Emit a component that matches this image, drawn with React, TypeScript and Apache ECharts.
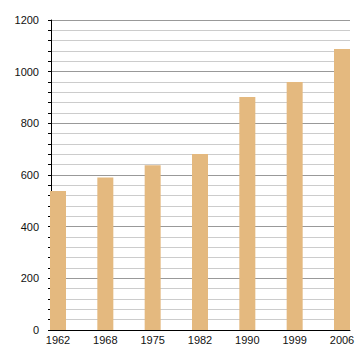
import React, { useEffect, useRef } from "react";
import * as echarts from "echarts";

const years = ["1962", "1968", "1975", "1982", "1990", "1999", "2006"];
const population = [538, 590, 638, 681, 902, 960, 1088];
const yTicks = [0, 200, 400, 600, 800, 1000, 1200];

export default function App() {
  const ref = useRef<HTMLDivElement>(null);
  useEffect(() => {
    if (!ref.current) return;
    const chart = echarts.init(ref.current, undefined, { renderer: "svg" });
    const font = "Liberation Sans, Arial, sans-serif";
    chart.setOption({
      animation: false,
      textStyle: { fontFamily: font },
      grid: [
        { left: 51, right: 10, top: 20, bottom: 30 },
        { left: 58, right: 18, top: 20, bottom: 30 },
      ],
      xAxis: [
        {
          type: "value",
          gridIndex: 0,
          min: 0,
          max: 1,
          axisLine: { show: true, lineStyle: { color: "#000", width: 1 } },
          axisTick: { show: false },
          axisLabel: { show: false },
          splitLine: { show: false },
        },
        {
          type: "category",
          gridIndex: 1,
          boundaryGap: false,
          data: years,
          axisLine: { show: false },
          axisTick: { show: false },
          axisLabel: { color: "#111", fontSize: 11, margin: 4, fontFamily: font },
          splitLine: { show: false },
        },
      ],
      yAxis: [
        {
          type: "value",
          gridIndex: 0,
          min: yTicks[0],
          max: yTicks[yTicks.length - 1],
          interval: 200,
          axisLine: { show: true, lineStyle: { color: "#000", width: 1 } },
          axisTick: { show: true, length: 3, lineStyle: { color: "#000" } },
          minorTick: { show: true, splitNumber: 5, length: 3, lineStyle: { color: "#000" } },
          axisLabel: {
            color: "#111",
            fontSize: 11,
            margin: 12,
            fontFamily: font,
            formatter: (v: number) => String(v),
          },
          splitLine: { show: true, lineStyle: { color: "#999", width: 1 } },
          minorSplitLine: { show: true, lineStyle: { color: "#ccc", width: 1 } },
        },
        {
          type: "value",
          gridIndex: 1,
          min: yTicks[0],
          max: yTicks[yTicks.length - 1],
          show: false,
        },
      ],
      series: [
        {
          type: "bar",
          xAxisIndex: 1,
          yAxisIndex: 1,
          data: population,
          barWidth: 16,
          itemStyle: { color: "#E4B97F" },
        },
      ],
    });
    return () => chart.dispose();
  }, []);
  return <div ref={ref} style={{ width: 360, height: 360, position: "absolute", left: 0, top: 0 }} />;
}
